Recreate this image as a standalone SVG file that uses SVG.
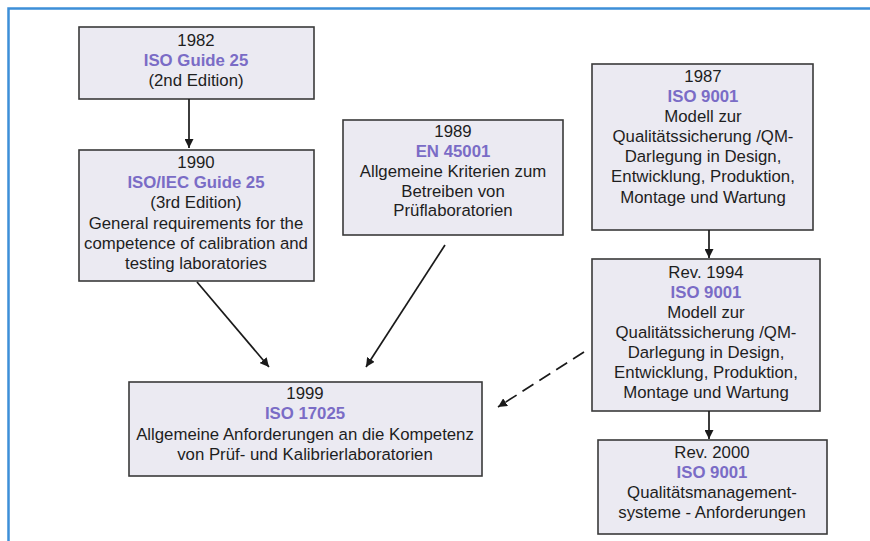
<svg xmlns="http://www.w3.org/2000/svg" width="870" height="541" viewBox="0 0 870 541">
<defs>
<marker id="ah" viewBox="0 0 10 10" refX="10" refY="5" markerWidth="9" markerHeight="9" markerUnits="userSpaceOnUse" orient="auto">
<path d="M0,0 L10,5 L0,10 z" fill="#1a1a1a"/>
</marker>
</defs>
<style>
.box{fill:#ebeaf2;stroke:#3a3a3a;stroke-width:1.6}
text{font-family:"Liberation Sans",Arial,sans-serif;font-size:16.8px;fill:#1e1e1e;text-anchor:middle}
.t{fill:#7a6cc6;font-weight:bold}
.c{stroke:#1a1a1a;stroke-width:1.7;fill:none;marker-end:url(#ah)}
.d{stroke-dasharray:13 7}
</style>
<rect width="870" height="541" fill="#ffffff"/>
<path d="M8.5,541 V8.5 H870" fill="none" stroke="#3d8fd8" stroke-width="2.5"/>
<g id="n1982">
<rect class="box" x="79" y="27" width="235" height="72"/>
<text x="196" y="46">1982</text>
<text x="196" y="66" class="t">ISO Guide 25</text>
<text x="196" y="86">(2nd Edition)</text>
</g>
<g id="n1990">
<rect class="box" x="79" y="150" width="235" height="131"/>
<text x="196" y="168">1990</text>
<text x="196" y="188" class="t">ISO/IEC Guide 25</text>
<text x="196" y="208">(3rd Edition)</text>
<text x="196" y="229">General requirements for the</text>
<text x="196" y="249">competence of calibration and</text>
<text x="196" y="269">testing laboratories</text>
</g>
<g id="n1989">
<rect class="box" x="343" y="120" width="220" height="115"/>
<text x="453" y="137">1989</text>
<text x="453" y="157" class="t">EN 45001</text>
<text x="453" y="177">Allgemeine Kriterien zum</text>
<text x="453" y="197">Betreiben von</text>
<text x="453" y="216">Prüflaboratorien</text>
</g>
<g id="n1987">
<rect class="box" x="592" y="64" width="221" height="166"/>
<text x="703" y="82">1987</text>
<text x="703" y="102" class="t">ISO 9001</text>
<text x="703" y="122">Modell zur</text>
<text x="703" y="142">Qualitätssicherung /QM-</text>
<text x="703" y="162">Darlegung in Design,</text>
<text x="703" y="182">Entwicklung, Produktion,</text>
<text x="703" y="203">Montage und Wartung</text>
</g>
<g id="n1994">
<rect class="box" x="592" y="259" width="228" height="152"/>
<text x="706" y="278">Rev. 1994</text>
<text x="706" y="298" class="t">ISO 9001</text>
<text x="706" y="318">Modell zur</text>
<text x="706" y="338">Qualitätssicherung /QM-</text>
<text x="706" y="358">Darlegung in Design,</text>
<text x="706" y="378">Entwicklung, Produktion,</text>
<text x="706" y="398">Montage und Wartung</text>
</g>
<g id="n2000">
<rect class="box" x="598" y="440" width="229" height="94"/>
<text x="712" y="458">Rev. 2000</text>
<text x="712" y="478" class="t">ISO 9001</text>
<text x="712" y="498">Qualitätsmanagement-</text>
<text x="712" y="518">systeme - Anforderungen</text>
</g>
<g id="n1999">
<rect class="box" x="129" y="382" width="353" height="94"/>
<text x="305" y="399">1999</text>
<text x="305" y="419" class="t">ISO 17025</text>
<text x="305" y="440">Allgemeine Anforderungen an die Kompetenz</text>
<text x="305" y="460">von Prüf- und Kalibrierlaboratorien</text>
</g>
<g id="connectors">
<line class="c" x1="189" y1="99" x2="189" y2="148"/>
<line class="c" x1="197" y1="282" x2="269" y2="367"/>
<line class="c" x1="445" y1="245" x2="366" y2="367"/>
<line class="c" x1="709" y1="230" x2="709" y2="258"/>
<line class="c" x1="709" y1="411" x2="709" y2="439"/>
<line class="c d" x1="584" y1="352" x2="498" y2="407"/>
</g>
</svg>
